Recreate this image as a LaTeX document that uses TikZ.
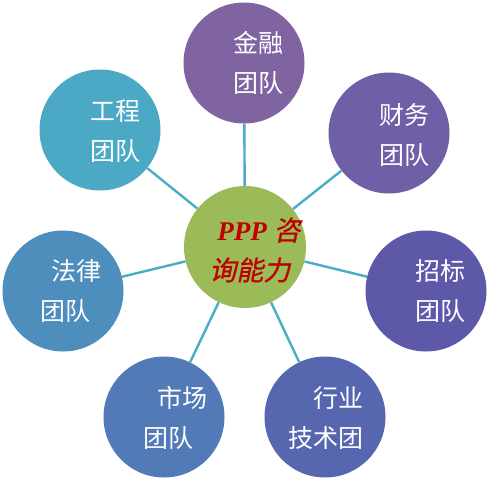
\documentclass[tikz,border=0pt]{standalone}
\usepackage{fontspec}
\setmainfont{Liberation Serif}
\newfontfamily\cjk{Noto Sans CJK SC}
\newfontfamily\cjkx[FakeSlant=0.2,FakeBold=0.8]{Noto Sans CJK SC}
\usetikzlibrary{positioning}
\definecolor{cjinrong}{HTML}{8064A2}
\definecolor{ccaiwu}{HTML}{6F5FA7}
\definecolor{czhaobiao}{HTML}{5E58A9}
\definecolor{changye}{HTML}{5767AF}
\definecolor{cshichang}{HTML}{527AB6}
\definecolor{cfalv}{HTML}{4D8EBD}
\definecolor{cgongcheng}{HTML}{4BA9C6}
\definecolor{cverde}{HTML}{9BBB59}
\definecolor{crojo}{HTML}{C00000}
\definecolor{cenlace}{HTML}{4BACC6}
\tikzset{
  equipo/.style={circle, minimum size=121pt, inner sep=0pt},
  rotulo/.style={text=white, font=\cjk\fontsize{25}{40}\selectfont, align=left, inner sep=0pt},
  nucleo/.style={circle, fill=cverde, minimum size=122pt, inner sep=0pt},
  enlace/.style={draw=cenlace, line width=2.4pt},
}
\begin{document}
\begin{tikzpicture}[x=1pt, y=-1pt]
  \useasboundingbox (0,0) rectangle (489,482);
  \node[nucleo] (ppp) at (245,247) {};
  \node[text=crojo, font=\fontsize{27}{40}\selectfont\bfseries\itshape, align=left, inner sep=0pt] (ppp-t) at (255,250) {\hspace*{8pt}PPP {\cjkx\mdseries\upshape 咨}\\{\cjkx\mdseries\upshape 询能力}};
  \node[equipo, fill=cjinrong] (jinrong) at (244,63) {};
  \node[equipo, fill=ccaiwu] (caiwu) at (389,133) {};
  \node[equipo, fill=czhaobiao] (zhaobiao) at (426,291) {};
  \node[equipo, fill=changye] (hangye) at (325,417) {};
  \node[equipo, fill=cshichang] (shichang) at (164,417) {};
  \node[equipo, fill=cfalv] (falv) at (63,291) {};
  \node[equipo, fill=cgongcheng] (gongcheng) at (100,130) {};
  \node[rotulo] (jinrong-t) at (258,63) {金融\\团队};
  \node[rotulo] (caiwu-t) at (404,135) {财务\\团队};
  \node[rotulo] (zhaobiao-t) at (440,291) {招标\\团队};
  \node[rotulo, align=right] (hangye-t) at (326,418) {行业\\技术团};
  \node[rotulo] (shichang-t) at (175,418) {\hspace*{14pt}市场\\团队};
  \node[rotulo] (falv-t) at (71,291) {\hspace*{11pt}法律\\团队};
  \node[rotulo] (gongcheng-t) at (115,131) {工程\\团队};
  \draw[enlace] (ppp)--(jinrong); \draw[enlace] (ppp)--(caiwu); \draw[enlace] (ppp)--(zhaobiao);
  \draw[enlace] (ppp)--(hangye); \draw[enlace] (ppp)--(shichang); \draw[enlace] (ppp)--(falv);
  \draw[enlace] (ppp)--(gongcheng);
\end{tikzpicture}
\end{document}
